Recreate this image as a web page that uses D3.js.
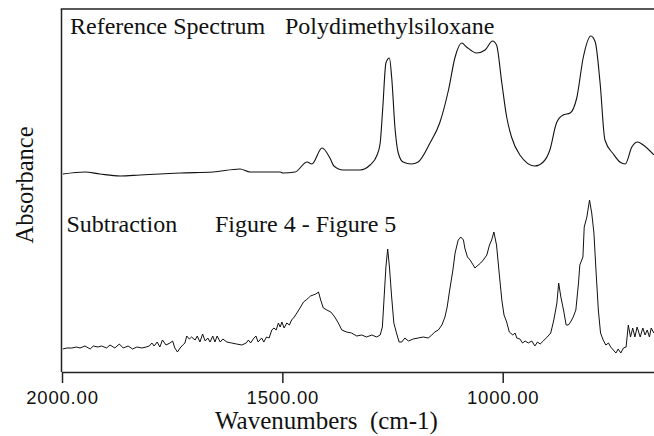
<!DOCTYPE html>
<html>
<head>
<meta charset="utf-8">
<script src="https://cdn.jsdelivr.net/npm/d3@7"></script>
<style>
  html, body { margin: 0; padding: 0; background: #fff; }
  svg { display: block; }
  .serif { font-family: "Liberation Serif", "Times New Roman", serif; fill: #111; }
</style>
</head>
<body>
<script>
// Reference spectrum: polydimethylsiloxane (wavenumber cm-1, absorbance, stacked offset)
const refWavenumbers = [1998,1948,1914,1868,1823,1778,1732,1657,1596,1573,1505,1499,1471,1444,1433,1410,1392,1383,1362,1324,1301,1285,1278,1272,1265,1257,1252,1244,1237,1226,1207,1192,1165,1143,1123,1108,1093,1082,1059,1040,1023,1014,1002,991,980,961,927,908,893,878,863,847,832,817,800,790,779,768,749,734,722,707,694,681,657];
const refAbsorbance = [1.98,2.00,1.98,1.96,1.97,1.98,1.99,2.00,2.03,2.00,2.00,1.99,2.00,2.10,2.08,2.24,2.14,2.06,2.02,2.02,2.07,2.17,2.29,2.65,3.09,3.14,2.95,2.42,2.19,2.10,2.08,2.10,2.29,2.49,2.82,3.15,3.29,3.25,3.19,3.22,3.31,3.27,2.89,2.55,2.35,2.17,2.06,2.10,2.22,2.49,2.57,2.59,2.74,3.15,3.36,3.30,2.89,2.32,2.18,2.10,2.08,2.25,2.30,2.27,2.17];

// Subtraction result: Figure 4 - Figure 5
const subWavenumbers = [1998,1989,1978,1967,1959,1948,1936,1929,1918,1910,1899,1891,1880,1870,1861,1850,1840,1830,1819,1809,1802,1796,1791,1784,1778,1772,1764,1755,1749,1744,1738,1732,1726,1721,1717,1711,1706,1698,1693,1687,1681,1675,1669,1664,1658,1653,1648,1641,1635,1626,1615,1604,1592,1582,1577,1572,
  1566,1560,1555,1547,1542,1536,1530,1524,1519,1514,1509,1505,1501,1496,1490,1484,1479,1473,1467,1460,1452,1446,1441,1436,1430,1424,1418,1413,1407,1399,1390,1381,1373,1365,1354,1343,1331,1320,1309,1297,1286,1278,1273,1269,1265,1261,1257,1252,1247,1241,1235,1229,1222,1214,1203,1192,1180,1169,1161,1154,1146,1138,1131,1126,1121,
  1113,1108,1101,1095,1089,1086,1080,1074,1067,1063,1058,1050,1044,1036,1030,1025,1020,1014,1008,1002,997,991,985,977,972,968,961,955,949,942,934,927,921,915,908,899,891,884,877,873,868,862,856,851,846,840,834,828,825,818,815,809,803,798,793,788,783,778,772,766,760,755,749,743,738,732,726,720,715,710,705,700,695,688,682,677,672,667,663,657];
const subAbsorbance = [0.23,0.24,0.24,0.25,0.24,0.26,0.23,0.26,0.25,0.26,0.24,0.27,0.24,0.28,0.24,0.26,0.23,0.25,0.24,0.25,0.26,0.29,0.26,0.30,0.25,0.32,0.27,0.29,0.31,0.24,0.20,0.24,0.27,0.29,0.36,0.33,0.35,0.32,0.36,0.30,0.38,0.31,0.34,0.30,0.36,0.30,0.36,0.30,0.33,0.30,0.29,0.28,0.27,0.29,0.32,0.29,
  0.33,0.36,0.30,0.34,0.30,0.35,0.34,0.42,0.44,0.42,0.49,0.45,0.50,0.44,0.49,0.47,0.52,0.55,0.59,0.64,0.70,0.72,0.74,0.76,0.77,0.78,0.80,0.72,0.64,0.62,0.60,0.55,0.49,0.42,0.40,0.39,0.36,0.37,0.35,0.37,0.35,0.37,0.45,0.75,1.05,1.23,1.05,0.75,0.49,0.39,0.30,0.30,0.34,0.31,0.33,0.34,0.35,0.34,0.37,0.40,0.42,0.47,0.55,0.65,0.80,
  1.02,1.19,1.32,1.35,1.32,1.24,1.15,1.12,1.07,1.04,1.06,1.09,1.12,1.17,1.27,1.32,1.40,1.27,0.99,0.72,0.57,0.50,0.40,0.37,0.39,0.34,0.33,0.29,0.31,0.29,0.31,0.26,0.30,0.28,0.31,0.35,0.39,0.52,0.69,0.89,0.75,0.62,0.47,0.47,0.50,0.55,0.62,0.89,1.07,1.15,1.45,1.55,1.72,1.59,1.39,0.99,0.62,0.39,0.32,0.27,0.29,0.25,0.22,0.19,0.23,0.19,0.24,0.25,0.47,0.35,0.44,0.35,0.45,0.35,0.44,0.37,0.42,0.35,0.44,0.39];

const xTicks = [2000, 1500, 1000];
const refLabel = ["Reference Spectrum", "Polydimethylsiloxane"];
const subLabel = ["Subtraction", "Figure 4 - Figure 5"];
const xTitle = "Wavenumbers  (cm-1)";
const yTitle = "Absorbance";

const W = 654, H = 436;
const plot = { left: 61.5, top: 9, bottom: 372, right: W };

const svg = d3.select("body").append("svg").attr("width", W).attr("height", H);

// wavenumber axis runs high -> low, left to right
const x = d3.scaleLinear().domain([2000, 650]).range([62, 62 + 1350 * 0.4407]);
const y = d3.scaleLinear().domain([0, 3.63]).range([plot.bottom, plot.top]);

// frame: top and left edges
svg.append("line").attr("x1", plot.left - 0.75).attr("x2", plot.right)
  .attr("y1", plot.top).attr("y2", plot.top)
  .attr("stroke", "#222").attr("stroke-width", 1.5);
svg.append("line").attr("x1", plot.left).attr("x2", plot.left)
  .attr("y1", plot.top).attr("y2", plot.bottom)
  .attr("stroke", "#222").attr("stroke-width", 1.5);

// bottom axis
const axis = svg.append("g").attr("transform", `translate(0,${plot.bottom})`)
  .call(d3.axisBottom(x).tickValues(xTicks).tickFormat(d3.format(".2f"))
    .tickSize(11).tickSizeOuter(0).tickPadding(8));
axis.select(".domain").attr("stroke", "#222").attr("stroke-width", 1.5);
axis.selectAll(".tick line").attr("stroke", "#222").attr("stroke-width", 1.5);
axis.selectAll(".tick text")
  .attr("font-family", "'Liberation Sans', Arial, sans-serif")
  .attr("font-size", 18.5).attr("letter-spacing", "0.8px").attr("fill", "#111");

const line = d3.line().x(d => x(d[0])).y(d => y(d[1]));

svg.append("path")
  .datum(d3.zip(refWavenumbers, refAbsorbance))
  .attr("fill", "none").attr("stroke", "#111").attr("stroke-width", 1.1)
  .attr("d", line.curve(d3.curveMonotoneX));

svg.append("path")
  .datum(d3.zip(subWavenumbers, subAbsorbance))
  .attr("fill", "none").attr("stroke", "#111").attr("stroke-width", 1)
  .attr("d", line.curve(d3.curveLinear));

// panel labels
svg.append("text").attr("class", "serif").attr("x", 70).attr("y", 34)
  .attr("font-size", 24).text(refLabel[0]);
svg.append("text").attr("class", "serif").attr("x", 285).attr("y", 34)
  .attr("font-size", 24).text(refLabel[1]);
svg.append("text").attr("class", "serif").attr("x", 66.5).attr("y", 232)
  .attr("font-size", 24).text(subLabel[0]);
svg.append("text").attr("class", "serif").attr("x", 215).attr("y", 232)
  .attr("font-size", 24).text(subLabel[1]);

// axis titles
svg.append("text").attr("class", "serif").attr("x", 215).attr("y", 429)
  .attr("font-size", 25).style("white-space", "pre").text(xTitle);
svg.append("text").attr("class", "serif")
  .attr("transform", `translate(33,185) rotate(-90)`)
  .attr("text-anchor", "middle").attr("font-size", 24.5).text(yTitle);
</script>
</body>
</html>
